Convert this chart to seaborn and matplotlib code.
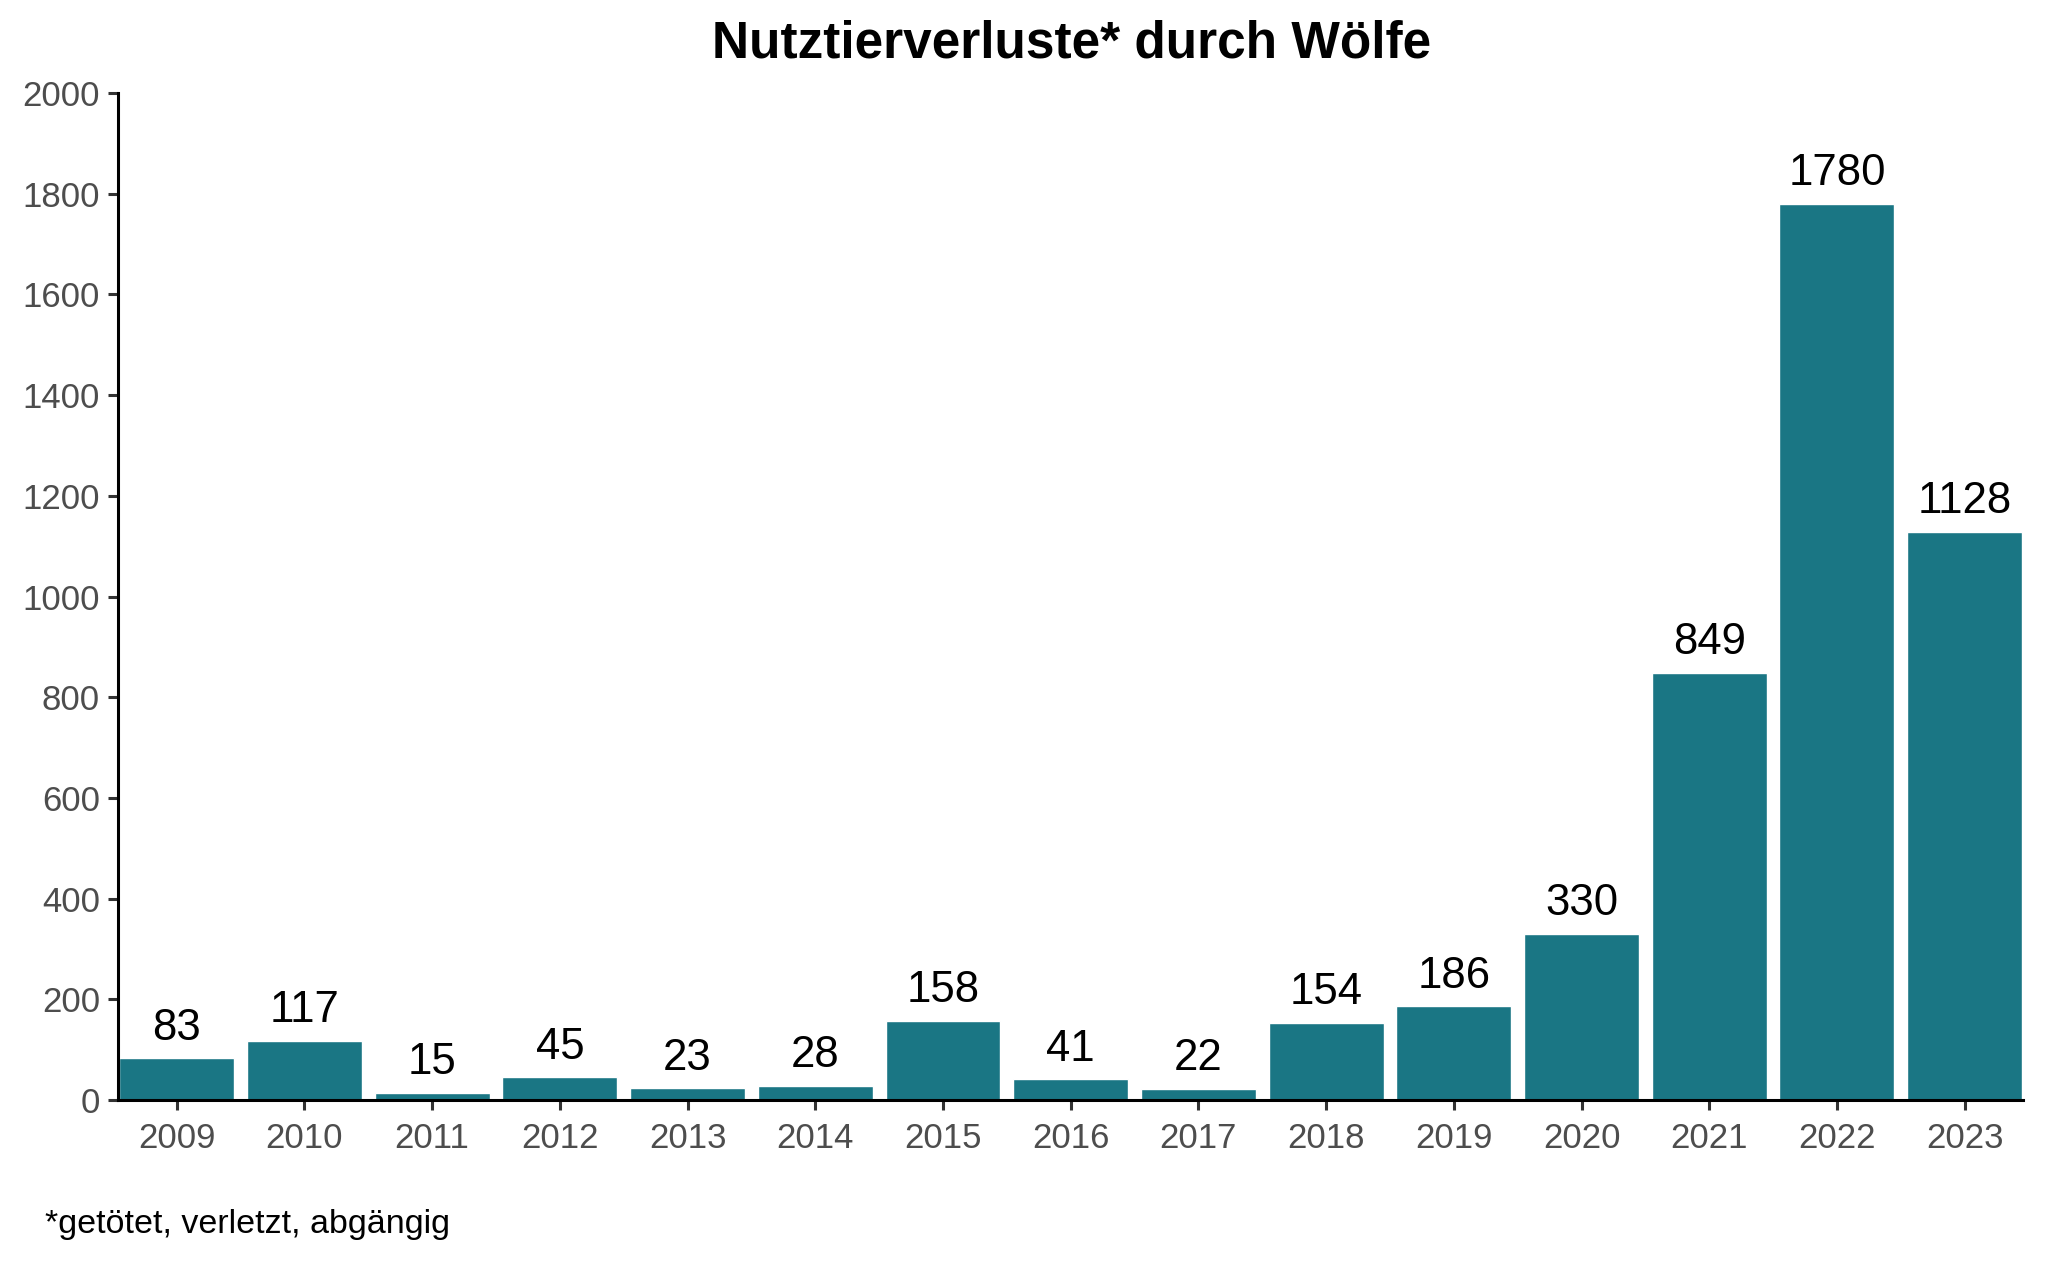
import pandas as pd
import matplotlib.pyplot as plt
import seaborn as sns

# Daten
jahre = ["2009", "2010", "2011", "2012", "2013", "2014", "2015", "2016",
         "2017", "2018", "2019", "2020", "2021", "2022", "2023"]
verluste = [83, 117, 15, 45, 23, 28, 158, 41, 22, 154, 186, 330, 849, 1780, 1128]
y_ticks = [0, 200, 400, 600, 800, 1000, 1200, 1400, 1600, 1800, 2000]

df = pd.DataFrame({"jahr": jahre, "verluste": verluste})

sns.set_style("white")
plt.rcParams["font.family"] = ["Liberation Sans", "DejaVu Sans"]
plt.rcParams["text.color"] = "black"

fig = plt.figure(figsize=(20.48, 12.64), dpi=100)
ax = fig.add_axes([0.0576, 0.1297, 0.9304, 0.7967])

sns.barplot(data=df, x="jahr", y="verluste", color="#1a7684", saturation=1,
            width=0.9, ax=ax)
ax.bar_label(ax.containers[0], labels=[str(v) for v in verluste],
             padding=7, fontsize=31.5, color="black")

ax.set_xlim(-0.46, len(jahre) - 0.54)
ax.set_ylim(0, 2000)
ax.set_yticks(y_ticks)
ax.set_xlabel("")
ax.set_ylabel("")

for side in ["top", "right"]:
    ax.spines[side].set_visible(False)
for side in ["left", "bottom"]:
    ax.spines[side].set_linewidth(2.2)
    ax.spines[side].set_color("black")

ax.tick_params(axis="both", which="major", direction="out", length=7, width=2.2,
               color="#333333", labelsize=25, labelcolor="#4d4d4d", pad=6)
ax.tick_params(axis="x", pad=9)
ax.tick_params(axis="y", left=True)
ax.tick_params(axis="x", bottom=True)

fig.text(0.523, 0.965, "Nutztierverluste* durch Wölfe", ha="center", va="center",
         fontsize=37, fontweight="bold", color="black")
fig.text(0.022, 0.031, "*getötet, verletzt, abgängig", ha="left", va="center",
         fontsize=24.5, color="black")

plt.savefig("out.png", dpi=100)
